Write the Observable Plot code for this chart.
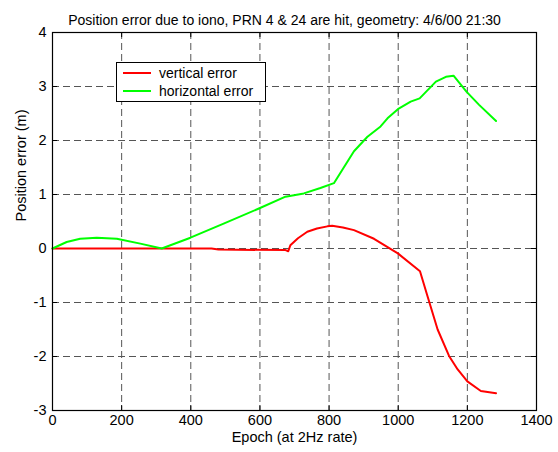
<!DOCTYPE html>
<html>
<head>
<meta charset="utf-8">
<script src="https://cdn.jsdelivr.net/npm/d3@7"></script>
<script src="https://cdn.jsdelivr.net/npm/@observablehq/plot@0.6"></script>
<style>
  html, body { margin: 0; padding: 0; background: #fff; }
  #wrap { position: relative; width: 558px; height: 452px; font-family: "Liberation Sans", Arial, sans-serif; }
  #legend { position: absolute; left: 116px; top: 62px; width: 150px; height: 40px; border: 1px solid #000; background: #fff; font-size: 14px; box-sizing: border-box; }
  .row { position: absolute; left: 0; height: 16px; line-height: 16px; }
  .sw { position: absolute; left: 6px; top: 7px; width: 28px; height: 2px; }
  .lt { position: absolute; left: 42px; top: 0; white-space: nowrap; color: #000; }
</style>
</head>
<body>
<div id="wrap"></div>
<script>
const title = "Position error due to iono, PRN 4 & 24 are hit, geometry: 4/6/00 21:30";
const xLabel = "Epoch (at 2Hz rate)";
const yLabel = "Position error (m)";
const xTicks = [0, 200, 400, 600, 800, 1000, 1200, 1400];
const yTicks = [-3, -2, -1, 0, 1, 2, 3, 4];
const seriesNames = ["vertical error", "horizontal error"];
const seriesColors = ["#ff0000", "#00ff00"];

const epochV = [0, 200, 460, 480, 674, 682, 688, 710, 737, 765, 795, 809, 840, 872, 930, 999, 1063, 1085, 1114, 1147, 1172, 1200, 1239, 1283];
const vert   = [0, 0, 0, -0.02, -0.03, -0.05, 0.06, 0.19, 0.31, 0.37, 0.41, 0.42, 0.39, 0.34, 0.18, -0.09, -0.42, -0.89, -1.50, -1.99, -2.24, -2.46, -2.64, -2.68];

const epochH = [0, 41, 80, 128, 186, 254, 316, 399, 495, 597, 674, 727, 775, 814, 872, 911, 949, 969, 999, 1036, 1062, 1109, 1138, 1160, 1198, 1234, 1283];
const horiz  = [0, 0.12, 0.18, 0.20, 0.18, 0.09, 0, 0.20, 0.46, 0.74, 0.96, 1.02, 1.12, 1.21, 1.80, 2.07, 2.26, 2.41, 2.58, 2.72, 2.78, 3.09, 3.18, 3.20, 2.90, 2.66, 2.36];

const vData = epochV.map((e, i) => ({x: e, y: vert[i]}));
const hData = epochH.map((e, i) => ({x: e, y: horiz[i]}));

const W = 558, H = 452;
const mt = 32, mb = 42, ml = 52, mr = 22;
const frameH = H - mt - mb, frameW = W - ml - mr;
const dash = "7,4";
const gridColor = "#555";

const chart = Plot.plot({
  width: W, height: H,
  marginTop: mt, marginBottom: mb, marginLeft: ml, marginRight: mr,
  style: {fontFamily: "'Liberation Sans', Arial, sans-serif", fontSize: "14.5px", background: "#fff", color: "#000"},
  x: {domain: [0, 1400], ticks: xTicks},
  y: {domain: [-3, 4], ticks: yTicks},
  marks: [
    Plot.ruleX(xTicks.slice(1, -1), {stroke: gridColor, strokeDasharray: dash, strokeWidth: 1}),
    Plot.ruleY(yTicks.slice(1, -1), {stroke: gridColor, strokeDasharray: dash, strokeWidth: 1}),
    Plot.ruleX(xTicks, {stroke: "#000", insetBottom: frameH - 5}),
    Plot.ruleX(xTicks, {stroke: "#000", insetTop: frameH - 5}),
    Plot.ruleY(yTicks, {stroke: "#000", insetRight: frameW - 5}),
    Plot.ruleY(yTicks, {stroke: "#000", insetLeft: frameW - 5}),
    Plot.line(vData, {x: "x", y: "y", stroke: seriesColors[0], strokeWidth: 2}),
    Plot.line(hData, {x: "x", y: "y", stroke: seriesColors[1], strokeWidth: 2}),
    Plot.frame({stroke: "#000", strokeWidth: 1.2}),
    Plot.axisX(xTicks, {tickSize: 0, tickPadding: 4, label: null, fontSize: 14.5, tickFormat: d => String(d)}),
    Plot.axisY(yTicks, {tickSize: 0, tickPadding: 6, label: null, fontSize: 14.5, tickFormat: d => String(d)}),
    Plot.text([title], {frameAnchor: "top", dy: -17, dx: -10, fontSize: 14, fill: "#000"}),
    Plot.text([xLabel], {frameAnchor: "bottom", dy: 31, fontSize: 14.5, fill: "#000"}),
    Plot.text([yLabel], {frameAnchor: "left", dx: -31, rotate: -90, fontSize: 14.5, fill: "#000"})
  ]
});

const wrap = document.getElementById("wrap");
wrap.appendChild(chart);

const legend = document.createElement("div");
legend.id = "legend";
seriesNames.forEach((name, i) => {
  const row = document.createElement("div");
  row.className = "row";
  row.style.top = (2 + i * 18) + "px";
  row.style.width = "100%";
  const sw = document.createElement("div");
  sw.className = "sw";
  sw.style.background = seriesColors[i];
  const lt = document.createElement("div");
  lt.className = "lt";
  lt.textContent = name;
  row.appendChild(sw);
  row.appendChild(lt);
  legend.appendChild(row);
});
wrap.appendChild(legend);
</script>
</body>
</html>
